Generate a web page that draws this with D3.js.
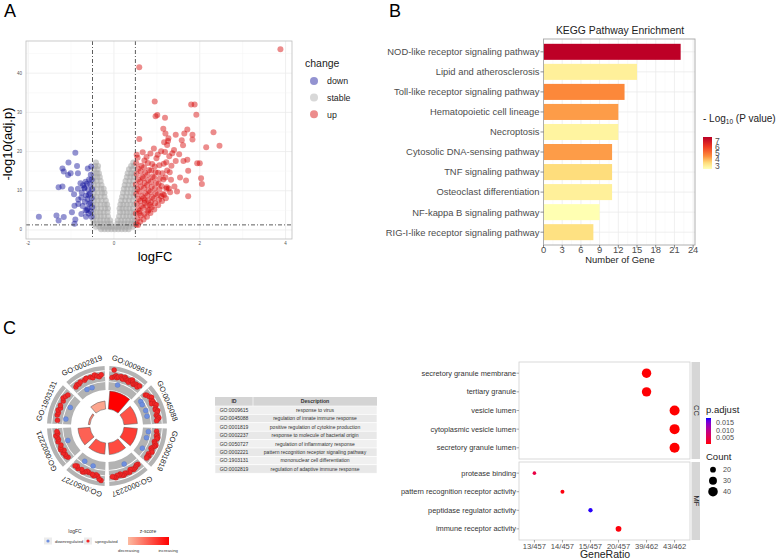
<!DOCTYPE html>
<html>
<head>
<meta charset="utf-8">
<script src="https://d3js.org/d3.v7.min.js"></script>
<style>
  body { margin: 0; background: #fff; }
  svg { font-family: "Liberation Sans", Arial, sans-serif; }
</style>
</head>
<body>
<div id="wrapper"></div>
<script>
const W = 783, H = 559

// ---------------- data: A volcano (logFC, -log10 adj.p) ----------------
const upPts = [
  [3.88,46.1],[0.59,41.5],[0.95,32.8],[0.97,29.0],[1.01,29.3],[1.19,28.6],[1.80,32.0],[1.88,32.0],[1.92,29.4],
  [1.15,25.8],[1.20,24.6],[1.44,24.3],[1.64,24.6],[1.71,25.6],[1.83,24.3],[1.83,23.1],[2.32,24.9],[2.46,21.5],
  [2.15,21.1],[1.58,22.9],[1.61,21.6],[1.27,23.4],[1.26,22.7],[1.17,22.4],[1.24,21.7],[0.59,23.2],[1.40,20.4],
  [1.36,19.6],[1.52,19.3],[1.71,17.9],[1.62,17.6],[1.44,17.6],[1.94,17.0],[2.00,17.0],[1.73,15.1],[1.54,13.4],
  [1.68,12.6],[2.03,13.2],[2.05,11.7],[1.41,11.1],[1.73,8.6],[1.47,9.8],[1.22,10.5],[1.28,10.6],[1.10,8.6],
  [1.17,8.9],[0.72,7.6],[0.84,6.4],[0.81,5.1],[0.59,4.3],[0.56,1.3],
  [0.52,1.4],[0.55,2.8],[0.51,4.2],[0.56,5.3],[0.53,6.7],[0.57,7.9],[0.52,9.2],[0.55,10.4],[0.51,11.6],
  [0.56,12.9],[0.53,14.3],[0.57,15.6],[0.52,17.0],[0.55,18.4],[0.53,19.2],
  [0.61,2.1],[0.63,3.6],[0.60,4.9],[0.64,6.1],[0.61,7.4],[0.65,8.6],[0.60,9.8],[0.63,11.1],[0.61,12.3],
  [0.66,13.6],[0.62,15.0],[0.64,16.4],
  [0.69,2.7],[0.71,4.1],[0.68,5.6],[0.72,6.9],[0.69,8.1],[0.73,9.4],[0.70,10.7],[0.72,12.0],[0.68,13.2],
  [0.73,14.6],[0.70,16.0],[0.71,17.7],[0.67,19.8],
  [0.77,3.4],[0.79,4.8],[0.76,6.2],[0.80,7.5],[0.78,8.8],[0.81,10.1],[0.77,11.4],[0.80,12.7],[0.78,14.0],
  [0.82,15.3],[0.79,17.1],[0.76,18.6],
  [0.85,4.3],[0.88,5.8],[0.86,7.1],[0.89,8.4],[0.85,9.7],[0.88,11.0],[0.86,12.3],[0.90,13.6],[0.87,15.2],
  [0.89,16.8],[0.85,19.5],
  [0.94,5.2],[0.96,6.8],[0.93,8.0],[0.97,9.3],[0.95,10.6],[0.98,12.0],[0.94,13.3],[0.97,14.7],[0.95,16.2],
  [0.99,18.3],[0.93,20.8],
  [1.03,6.3],[1.05,7.7],[1.02,9.0],[1.06,10.4],[1.04,11.8],[1.07,13.1],[1.03,14.6],[1.06,16.5],[1.02,19.2],
  [1.12,7.4],[1.14,9.2],[1.11,11.2],[1.15,12.9],[1.13,14.5],[1.16,16.9],[1.10,20.1],
  [1.21,8.1],[1.23,10.9],[1.20,13.4],[1.24,15.2],[1.22,17.3],[1.19,19.9],
  [1.31,9.6],[1.33,12.8],[1.30,14.7],[1.34,16.4],[1.29,18.8]
]
const downPts = [
  [-1.75,3.4],[-1.34,3.7],[-1.29,2.4],[-1.17,3.3],[-0.92,1.6],[-0.90,2.7],[-0.98,4.5],[-0.76,4.1],[-0.65,3.4],
  [-0.63,5.1],[-1.29,10.9],[-1.20,11.1],[-1.20,15.7],[-1.17,14.9],[-1.07,14.0],[-1.01,14.5],[-1.06,17.2],
  [-0.90,19.7],[-0.86,16.3],[-0.61,15.7],[-0.53,16.2],[-0.84,14.5],[-1.00,10.4],[-0.93,9.1],[-0.83,7.8],
  [-0.76,8.3],[-0.78,11.9],[-0.84,10.5],[-0.69,10.6],[-0.92,6.2],[-0.83,6.6],
  [-0.52,3.4],[-0.54,4.7],[-0.51,5.8],[-0.55,6.9],[-0.52,8.1],[-0.56,9.3],[-0.51,10.4],[-0.55,11.6],
  [-0.52,12.8],[-0.54,14.1],[-0.59,4.2],[-0.61,5.5],[-0.58,6.6],[-0.62,7.9],[-0.59,9.0],[-0.60,10.3],
  [-0.63,11.8],[-0.58,12.9],[-0.66,5.0],[-0.68,7.2],[-0.65,8.8],[-0.69,10.8],[-0.66,12.3],
  [-0.73,6.1],[-0.75,9.5],[-0.72,11.4]
]
const stablePts = [
  [-0.30,0.2],[-0.22,0.2],[-0.14,0.2],[-0.06,0.2],[0.02,0.2],[0.10,0.2],[0.18,0.2],[0.26,0.2],[0.34,0.2],
  [-0.42,0.8],[-0.34,0.8],[-0.26,0.8],[-0.18,0.8],[-0.10,0.8],[-0.03,0.8],[0.05,0.8],[0.12,0.8],[0.20,0.8],[0.28,0.8],[0.36,0.8],[0.44,0.8],
  [-0.47,1.6],[-0.39,1.6],[-0.31,1.6],[-0.23,1.6],[-0.15,1.6],[-0.08,1.6],[0.08,1.6],[0.16,1.6],[0.24,1.6],[0.32,1.6],[0.40,1.6],[0.47,1.6],
  [-0.48,2.5],[-0.40,2.5],[-0.32,2.5],[-0.24,2.5],[-0.16,2.5],[-0.09,2.5],[0.09,2.5],[0.17,2.5],[0.25,2.5],[0.33,2.5],[0.41,2.5],[0.48,2.5],
  [-0.47,3.5],[-0.39,3.5],[-0.31,3.5],[-0.23,3.5],[-0.14,3.5],[0.12,3.5],[0.21,3.5],[0.29,3.5],[0.37,3.5],[0.45,3.5],
  [-0.48,4.5],[-0.40,4.5],[-0.32,4.5],[-0.24,4.5],[-0.15,4.5],[0.14,4.5],[0.22,4.5],[0.30,4.5],[0.38,4.5],[0.46,4.5],
  [-0.47,5.5],[-0.39,5.5],[-0.30,5.5],[-0.21,5.5],[-0.14,5.5],[0.13,5.5],[0.20,5.5],[0.28,5.5],[0.36,5.5],[0.44,5.5],
  [-0.48,6.5],[-0.40,6.5],[-0.31,6.5],[-0.22,6.5],[-0.16,6.5],[0.15,6.5],[0.22,6.5],[0.30,6.5],[0.38,6.5],[0.47,6.5],
  [-0.47,7.5],[-0.38,7.5],[-0.29,7.5],[-0.19,7.5],[0.17,7.5],[0.26,7.5],[0.35,7.5],[0.44,7.5],
  [-0.48,8.5],[-0.40,8.5],[-0.31,8.5],[-0.22,8.5],[0.19,8.5],[0.28,8.5],[0.37,8.5],[0.46,8.5],
  [-0.47,9.5],[-0.38,9.5],[-0.28,9.5],[-0.22,9.5],[0.21,9.5],[0.30,9.5],[0.39,9.5],[0.47,9.5],
  [-0.48,10.5],[-0.39,10.5],[-0.30,10.5],[-0.24,10.5],[0.23,10.5],[0.31,10.5],[0.40,10.5],[0.48,10.5],
  [-0.47,11.5],[-0.38,11.5],[-0.29,11.5],[0.25,11.5],[0.34,11.5],[0.43,11.5],
  [-0.48,12.5],[-0.40,12.5],[-0.31,12.5],[0.27,12.5],[0.36,12.5],[0.45,12.5],
  [-0.47,13.5],[-0.39,13.5],[-0.33,13.5],[0.30,13.5],[0.38,13.5],[0.46,13.5],
  [-0.48,14.5],[-0.40,14.5],[-0.35,14.5],[0.32,14.5],[0.40,14.5],[0.47,14.5],
  [-0.46,15.5],[-0.38,15.5],[0.35,15.5],[0.43,15.5],
  [-0.44,16.3],[-0.37,16.3],[0.40,16.3],[0.47,16.3],
  [-0.42,17.2],[0.45,17.2]
]
const changeLevels = ["down", "stable", "up"]
const volcXTicks = [-2, 0, 2, 4]
const volcYTicks = [0, 10, 20, 30, 40]

// ---------------- data: B KEGG ----------------
const keggPathways = ["NOD-like receptor signaling pathway", "Lipid and atherosclerosis",
  "Toll-like receptor signaling pathway", "Hematopoietic cell lineage", "Necroptosis",
  "Cytosolic DNA-sensing pathway", "TNF signaling pathway", "Osteoclast differentiation",
  "NF-kappa B signaling pathway", "RIG-I-like receptor signaling pathway"]
const keggGenes = [22, 15, 13, 12, 12, 11, 11, 11, 9, 8]
const keggLogP = [7.5, 2.9, 4.6, 4.3, 2.8, 4.3, 3.4, 2.9, 2.5, 3.3]
const keggXTicks = [0, 3, 6, 9, 12, 15, 18, 21, 24]
const keggLegendTicks = [3, 4, 5, 6, 7]

// ---------------- data: C GO circle + table ----------------
const goIds = ["GO:0009615", "GO:0045088", "GO:0001819", "GO:0002237", "GO:0050727", "GO:0002221", "GO:1903131", "GO:0002819"]
const goDesc = ["response to virus", "regulation of innate immune response", "positive regulation of cytokine production",
  "response to molecule of bacterial origin", "regulation of inflammatory response",
  "pattern recognition receptor signaling pathway", "mononuclear cell differentiation",
  "regulation of adaptive immune response"]
const goCount = [40, 30, 30, 26, 25, 27, 4, 18]
const goZ = [6.0, 3.8, 4.4, 4.0, 3.8, 3.4, 2.6, 1.6]
const goLogFC = [
  [0.8,2.2,1.0,1.2,0.9,1.1,-0.4,1.3,1.0,0.9,1.4,1.2,1.0,1.1,0.8,1.3,1.5,1.2,0.9,1.0,1.2,1.1,0.9,1.3],
  [0.9,1.1,-0.5,1.3,1.6,-0.6,1.2,1.4,1.0,1.5,1.7,-0.5,1.3,1.2,1.6,1.4,-0.6,1.1,1.3,1.5,1.2,1.0],
  [1.0,-0.5,1.2,1.1,1.4,1.3,-0.6,1.0,1.2,1.5,1.3,1.1,0.9,1.2,1.4,-0.5,1.0,1.3,1.1,1.2],
  [0.9,0.8,1.0,1.1,1.2,1.0,0.9,1.3,-0.5,1.2,1.1,1.4,1.3,1.0,1.2,1.1,1.5,1.3,1.2],
  [1.9,1.7,1.2,1.0,1.3,1.1,-0.4,1.0,0.9,1.2,1.4,1.1,-0.5,1.3,1.0,1.2],
  [1.0,1.2,1.1,1.3,0.9,1.4,1.2,1.0,-0.5,1.3,1.1,1.2,1.4,1.0,1.1],
  [1.0,-0.5,1.2,1.1,1.3,1.0,1.2,-0.6,1.1,1.4,1.2,1.0],
  [1.0,1.2,1.1,1.3,-0.5,1.2,1.4,-0.6,1.3,1.1,1.5,1.2,1.0,1.3]
]

// ---------------- data: C dot plot ----------------
const dotTerms = ["secretory granule membrane", "tertiary granule", "vesicle lumen", "cytoplasmic vesicle lumen",
  "secretory granule lumen", "protease binding", "pattern recognition receptor activity",
  "peptidase regulator activity", "immune receptor activity"]
const dotOnt = ["CC", "CC", "CC", "CC", "CC", "MF", "MF", "MF", "MF"]
const dotRatio = ["39/462", "39/462", "43/462", "43/462", "43/462", "13/457", "14/457", "15/457", "20/457"]
const dotCount = [39, 39, 43, 43, 43, 13, 14, 15, 20]
const dotP = [0.0009, 0.0009, 0.0008, 0.0008, 0.0008, 0.0043, 0.0012, 0.0178, 0.0011]
const ratioLevels = ["13/457", "14/457", "15/457", "20/457", "39/462", "43/462"]
const pTicks = [0.005, 0.010, 0.015]
const countTicks = [20, 30, 40]

const svg = d3.select("#wrapper").append("svg")
  .attr("width", W).attr("height", H)
svg.append("rect").attr("width", W).attr("height", H).attr("fill", "#fff")
const defs = svg.append("defs")

// panel letters
svg.append("text").attr("x", 4).attr("y", 17).attr("font-size", 18).text("A")
svg.append("text").attr("x", 389).attr("y", 17).attr("font-size", 18).text("B")
svg.append("text").attr("x", 3).attr("y", 334).attr("font-size", 18).text("C")

/////////////////////// A: volcano ///////////////////////
{
  const x = d3.scaleLinear().domain([-2.05, 4.15]).range([26, 292])
  const y = d3.scaleLinear().domain([-2.3, 48.2]).range([239, 41])
  const g = svg.append("g")

  // grid
  d3.range(-2, 4.5, 1).forEach(v => {
    g.append("line").attr("x1", x(v)).attr("x2", x(v)).attr("y1", 41).attr("y2", 239)
      .attr("stroke", v % 2 === 0 ? "#ebebeb" : "#f5f5f5").attr("stroke-width", v % 2 === 0 ? 0.8 : 0.5)
  })
  d3.range(0, 46, 5).forEach(v => {
    g.append("line").attr("x1", 26).attr("x2", 292).attr("y1", y(v)).attr("y2", y(v))
      .attr("stroke", v % 10 === 0 ? "#ebebeb" : "#f5f5f5").attr("stroke-width", v % 10 === 0 ? 0.8 : 0.5)
  })

  const addPts = (pts, col, op) => g.append("g").selectAll("circle").data(pts).enter().append("circle")
    .attr("cx", d => x(d[0])).attr("cy", d => y(d[1])).attr("r", 3)
    .attr("fill", col).attr("fill-opacity", op)
  addPts(stablePts, "#a8a8a8", 0.55)
  addPts(downPts, "#10109a", 0.45)
  addPts(upPts, "#d40000", 0.45)

  // threshold lines
  const dash = "4,2,1,2"
  ;[-0.5, 0.5].forEach(v => g.append("line").attr("x1", x(v)).attr("x2", x(v)).attr("y1", 41).attr("y2", 239)
    .attr("stroke", "#333").attr("stroke-width", 0.8).attr("stroke-dasharray", dash))
  g.append("line").attr("x1", 26).attr("x2", 292).attr("y1", y(1.3)).attr("y2", y(1.3))
    .attr("stroke", "#333").attr("stroke-width", 0.8).attr("stroke-dasharray", dash)

  g.append("rect").attr("x", 26).attr("y", 41).attr("width", 266).attr("height", 198)
    .attr("fill", "none").attr("stroke", "#bdbdbd").attr("stroke-width", 0.8)

  // ticks
  volcXTicks.forEach(v => g.append("text").attr("x", x(v)).attr("y", 245).attr("text-anchor", "middle")
    .attr("font-size", 4.5).attr("fill", "#555").text(v))
  volcYTicks.forEach(v => g.append("text").attr("x", 22).attr("y", y(v) + 1.5).attr("text-anchor", "end")
    .attr("font-size", 4.5).attr("fill", "#555").text(v))

  g.append("text").attr("x", 155).attr("y", 261).attr("text-anchor", "middle").attr("font-size", 13).text("logFC")
  g.append("text").attr("transform", "translate(12,144) rotate(-90)").attr("text-anchor", "middle")
    .attr("font-size", 13).text("-log10(adj.p)")

  // legend
  const legCol = {down: "#10109a", stable: "#a8a8a8", up: "#d40000"}
  g.append("text").attr("x", 305).attr("y", 67).attr("font-size", 10.5).attr("fill", "#222").text("change")
  changeLevels.forEach((k, i) => {
    const yy = 81 + i * 16.6
    g.append("circle").attr("cx", 314).attr("cy", yy).attr("r", 4).attr("fill", legCol[k]).attr("fill-opacity", 0.45)
    g.append("text").attr("x", 327).attr("y", yy + 3.3).attr("font-size", 8.8).attr("fill", "#222").text(k)
  })
}

/////////////////////// B: KEGG bars ///////////////////////
{
  const x = d3.scaleLinear().domain([0, 24.3]).range([543.5, 695])
  const y = d3.scaleBand().domain(keggPathways).range([39, 245]).paddingInner(0.2).paddingOuter(0.24)
  const col = d3.scaleLinear().domain([2.5, 3.5, 4.5, 6, 7.5])
    .range(["#ffffb2", "#fed976", "#fd8d3c", "#f03b20", "#bd0026"])
  const g = svg.append("g")

  keggXTicks.forEach(v => g.append("line").attr("x1", x(v)).attr("x2", x(v)).attr("y1", 39).attr("y2", 245)
    .attr("stroke", "#ebebeb").attr("stroke-width", 0.8))
  keggXTicks.slice(0, -1).forEach(v => g.append("line").attr("x1", x(v + 1.5)).attr("x2", x(v + 1.5)).attr("y1", 39).attr("y2", 245)
    .attr("stroke", "#f5f5f5").attr("stroke-width", 0.5))
  keggPathways.forEach(p => g.append("line").attr("x1", 543.5).attr("x2", 695)
    .attr("y1", y(p) + y.bandwidth() / 2).attr("y2", y(p) + y.bandwidth() / 2).attr("stroke", "#ebebeb").attr("stroke-width", 0.8))

  g.selectAll(".bar").data(keggPathways).enter().append("rect")
    .attr("x", x(0)).attr("y", d => y(d)).attr("height", y.bandwidth())
    .attr("width", (d, i) => x(keggGenes[i]) - x(0))
    .attr("fill", (d, i) => col(keggLogP[i]))

  g.append("rect").attr("x", 543.5).attr("y", 39).attr("width", 151.5).attr("height", 206)
    .attr("fill", "none").attr("stroke", "#a6a6a6").attr("stroke-width", 0.9)

  keggPathways.forEach(p => {
    const cy = y(p) + y.bandwidth() / 2
    g.append("line").attr("x1", 540.5).attr("x2", 543.5).attr("y1", cy).attr("y2", cy).attr("stroke", "#444").attr("stroke-width", 0.6)
    g.append("text").attr("x", 539.5).attr("y", cy + 3.4).attr("text-anchor", "end").attr("font-size", 9.4)
      .attr("fill", "#4d4d4d").text(p)
  })
  keggXTicks.forEach(v => {
    g.append("line").attr("x1", x(v)).attr("x2", x(v)).attr("y1", 245).attr("y2", 248).attr("stroke", "#444").attr("stroke-width", 0.6)
    g.append("text").attr("x", x(v)).attr("y", 252.5).attr("text-anchor", "middle").attr("font-size", 9.4)
      .attr("fill", "#4d4d4d").text(v)
  })
  g.append("text").attr("x", 620).attr("y", 262.5).attr("text-anchor", "middle").attr("font-size", 9.4).attr("fill", "#222").text("Number of Gene")
  g.append("text").attr("x", 620).attr("y", 34).attr("text-anchor", "middle").attr("font-size", 10.4).attr("fill", "#222").text("KEGG Pathway Enrichment")

  // colour legend
  const lt = g.append("text").attr("x", 703).attr("y", 122).attr("font-size", 10).attr("fill", "#222")
  lt.append("tspan").text("- Log")
  lt.append("tspan").attr("font-size", 6.5).attr("dy", 2.2).text("10")
  lt.append("tspan").attr("dy", -2.2).text(" (P value)")
  const ly = d3.scaleLinear().domain([2.4, 7.6]).range([169, 137])
  const grad = defs.append("linearGradient").attr("id", "keggGrad").attr("x1", 0).attr("x2", 0).attr("y1", 1).attr("y2", 0)
  d3.range(0, 1.01, 0.1).forEach(t => grad.append("stop").attr("offset", t).attr("stop-color", col(2.4 + t * 5.2)))
  g.append("rect").attr("x", 703).attr("y", 137).attr("width", 9).attr("height", 32).attr("fill", "url(#keggGrad)")
  keggLegendTicks.forEach(v => g.append("text").attr("x", 715).attr("y", ly(v) + 3.2).attr("font-size", 8.5)
    .attr("fill", "#4d4d4d").text(v))
}

/////////////////////// C: GO circle ///////////////////////
{
  const cx = 107, cy = 426
  const g = svg.append("g").attr("transform", `translate(${cx},${cy})`)
  const n = goIds.length, seg = 2 * Math.PI / n, gap = 0.08, barGap = 0.16
  const rIn = 17
  const barR = d3.scaleLinear().domain([0, 40]).range([rIn, 35])
  const zCol = d3.scaleLinear().domain([1, 6]).range(["#fcbba1", "#ff0000"])
  const fcR = d3.scaleLinear().domain([-1, 2.5]).range([39, 58])
  const arc = d3.arc()

  goIds.forEach((id, i) => {
    const a0 = i * seg + gap / 2, a1 = (i + 1) * seg - gap / 2
    // grey outer ring
    g.append("path").attr("d", arc({innerRadius: 36, outerRadius: 60, startAngle: a0, endAngle: a1})).attr("fill", "#b3b3b3")
    ;[0, 1, 2].forEach(v => g.append("path")
      .attr("d", arc({innerRadius: fcR(v) - 0.4, outerRadius: fcR(v) + 0.4, startAngle: a0, endAngle: a1})).attr("fill", "#fff"))
    // inner bar
    g.append("path").attr("d", arc({innerRadius: rIn, outerRadius: barR(goCount[i]),
        startAngle: i * seg + barGap / 2, endAngle: (i + 1) * seg - barGap / 2}))
      .attr("fill", zCol(goZ[i])).attr("stroke", "#555").attr("stroke-width", 0.5)
    // genes
    const vals = goLogFC[i]
    vals.forEach((v, j) => {
      const a = a0 + 0.05 + (j + 0.5) / vals.length * (a1 - a0 - 0.1)
      const r = fcR(v)
      g.append("circle").attr("cx", r * Math.sin(a)).attr("cy", -r * Math.cos(a)).attr("r", 2.5)
        .attr("fill", v > 0 ? "#f02828" : "#6f8fdf").attr("stroke", v > 0 ? "#a01010" : "#4a6ab0").attr("stroke-width", 0.3)
    })
    // label
    const deg = (a0 + a1) / 2 * 180 / Math.PI
    g.append("text").attr("transform", `rotate(${deg}) translate(0,-63)`).attr("text-anchor", "middle")
      .attr("font-size", 7.5).attr("fill", "#222").text(id)
  })

  // legends under circle
  const lg = svg.append("g").attr("fill", "#333")
  lg.append("text").attr("x", 75).attr("y", 533).attr("text-anchor", "middle").attr("font-size", 5).text("logFC")
  lg.append("rect").attr("x", 44).attr("y", 537.5).attr("width", 8).attr("height", 7).attr("fill", "#ececec")
  lg.append("circle").attr("cx", 48).attr("cy", 541).attr("r", 1.6).attr("fill", "#6f8fdf")
  lg.append("text").attr("x", 55).attr("y", 542.6).attr("font-size", 4.3).text("downregulated")
  lg.append("rect").attr("x", 84).attr("y", 537.5).attr("width", 8).attr("height", 7).attr("fill", "#ececec")
  lg.append("circle").attr("cx", 88).attr("cy", 541).attr("r", 1.6).attr("fill", "#f02828")
  lg.append("text").attr("x", 95).attr("y", 542.6).attr("font-size", 4.3).text("upregulated")
  lg.append("text").attr("x", 148).attr("y", 533).attr("text-anchor", "middle").attr("font-size", 5).text("z-score")
  const zg = defs.append("linearGradient").attr("id", "zGrad")
  zg.append("stop").attr("offset", 0).attr("stop-color", zCol(1))
  zg.append("stop").attr("offset", 1).attr("stop-color", zCol(6))
  lg.append("rect").attr("x", 128).attr("y", 537).attr("width", 41).attr("height", 8).attr("fill", "url(#zGrad)")
  lg.append("text").attr("x", 118).attr("y", 551.5).attr("font-size", 4.3).text("decreasing")
  lg.append("text").attr("x", 178).attr("y", 551.5).attr("text-anchor", "end").attr("font-size", 4.3).text("increasing")
}

/////////////////////// C: GO table ///////////////////////
{
  const g = svg.append("g")
  const x0 = 215, x1 = 253, x2 = 377, top = 397, hh = 9, rh = 8.4
  g.append("rect").attr("x", x0).attr("y", top).attr("width", x2 - x0).attr("height", hh).attr("fill", "#d4d4d4")
  g.append("line").attr("x1", x1).attr("x2", x1).attr("y1", top).attr("y2", top + hh).attr("stroke", "#fff").attr("stroke-width", 0.6)
  g.append("text").attr("x", (x0 + x1) / 2).attr("y", top + 6.3).attr("text-anchor", "middle").attr("font-size", 5.2)
    .attr("font-weight", "bold").attr("fill", "#333").text("ID")
  g.append("text").attr("x", (x1 + x2) / 2).attr("y", top + 6.3).attr("text-anchor", "middle").attr("font-size", 5.2)
    .attr("font-weight", "bold").attr("fill", "#333").text("Description")
  goIds.forEach((id, i) => {
    const yy = top + hh + i * rh
    g.append("rect").attr("x", x0).attr("y", yy).attr("width", x2 - x0).attr("height", rh)
      .attr("fill", i % 2 ? "#e8e8e8" : "#f0f0f0").attr("stroke", "#fff").attr("stroke-width", 0.6)
    g.append("text").attr("x", (x0 + x1) / 2).attr("y", yy + 5.9).attr("text-anchor", "middle").attr("font-size", 5)
      .attr("fill", "#333").text(id)
    g.append("text").attr("x", (x1 + x2) / 2).attr("y", yy + 5.9).attr("text-anchor", "middle").attr("font-size", 5)
      .attr("fill", "#333").text(goDesc[i])
  })
}

/////////////////////// C: dot plot ///////////////////////
{
  const g = svg.append("g")
  const x = d3.scalePoint().domain(ratioLevels).range([519, 690]).padding(0.55)
  const rs = d3.scaleRadial().domain([13, 43]).range([1.8, 5])
  const pc = d3.scaleLinear().domain([0.0008, 0.0181]).range(["red", "blue"]).interpolate(d3.interpolateLab)
  const facets = [{name: "CC", top: 362, bottom: 459}, {name: "MF", top: 462, bottom: 540}]

  facets.forEach(f => {
    const idx = dotTerms.map((t, i) => i).filter(i => dotOnt[i] === f.name)
    const y = d3.scalePoint().domain(idx.map(i => dotTerms[i])).range([f.top, f.bottom]).padding(0.6)
    g.append("rect").attr("x", 519).attr("y", f.top).attr("width", 171).attr("height", f.bottom - f.top)
      .attr("fill", "#fff").attr("stroke", "#d0d0d0").attr("stroke-width", 0.8)
    g.append("rect").attr("x", 691.5).attr("y", f.top).attr("width", 8.5).attr("height", f.bottom - f.top).attr("fill", "#d6d6d6")
    g.append("text").attr("transform", `translate(694,${(f.top + f.bottom) / 2}) rotate(90)`).attr("text-anchor", "middle")
      .attr("font-size", 7.5).attr("fill", "#222").text(f.name)
    idx.forEach(i => {
      const yy = y(dotTerms[i])
      g.append("line").attr("x1", 516.5).attr("x2", 519).attr("y1", yy).attr("y2", yy).attr("stroke", "#555").attr("stroke-width", 0.5)
      g.append("text").attr("x", 516).attr("y", yy + 2.6).attr("text-anchor", "end").attr("font-size", 7.4)
        .attr("fill", "#333").text(dotTerms[i])
      g.append("circle").attr("cx", x(dotRatio[i])).attr("cy", yy).attr("r", rs(dotCount[i])).attr("fill", pc(dotP[i]))
    })
  })
  ratioLevels.forEach(r => {
    g.append("line").attr("x1", x(r)).attr("x2", x(r)).attr("y1", 540).attr("y2", 542.5).attr("stroke", "#555").attr("stroke-width", 0.5)
    g.append("text").attr("x", x(r)).attr("y", 548.5).attr("text-anchor", "middle").attr("font-size", 7.6)
      .attr("fill", "#4d4d4d").text(r)
  })
  g.append("text").attr("x", 605).attr("y", 558).attr("text-anchor", "middle").attr("font-size", 10.5).attr("fill", "#222").text("GeneRatio")

  // legends
  g.append("text").attr("x", 706).attr("y", 413).attr("font-size", 9.5).attr("fill", "#222").text("p.adjust")
  const pg = defs.append("linearGradient").attr("id", "pGrad").attr("x1", 0).attr("x2", 0).attr("y1", 1).attr("y2", 0)
  d3.range(0, 1.01, 0.1).forEach(t => pg.append("stop").attr("offset", t).attr("stop-color", pc(0.0008 + t * 0.0173)))
  const py = d3.scaleLinear().domain([0.0008, 0.0181]).range([444, 418])
  g.append("rect").attr("x", 706).attr("y", 418).attr("width", 5).attr("height", 26).attr("fill", "url(#pGrad)")
  pTicks.forEach(v => g.append("text").attr("x", 716).attr("y", py(v) + 2.6).attr("font-size", 7.2)
    .attr("fill", "#4d4d4d").text(v.toFixed(3)))
  g.append("text").attr("x", 706).attr("y", 460).attr("font-size", 9.5).attr("fill", "#222").text("Count")
  countTicks.forEach((v, i) => {
    const yy = 469.7 + i * 11
    g.append("circle").attr("cx", 713).attr("cy", yy).attr("r", rs(v)).attr("fill", "#000")
    g.append("text").attr("x", 723).attr("y", yy + 2.6).attr("font-size", 7.2).attr("fill", "#4d4d4d").text(v)
  })
}
</script>
</body>
</html>
